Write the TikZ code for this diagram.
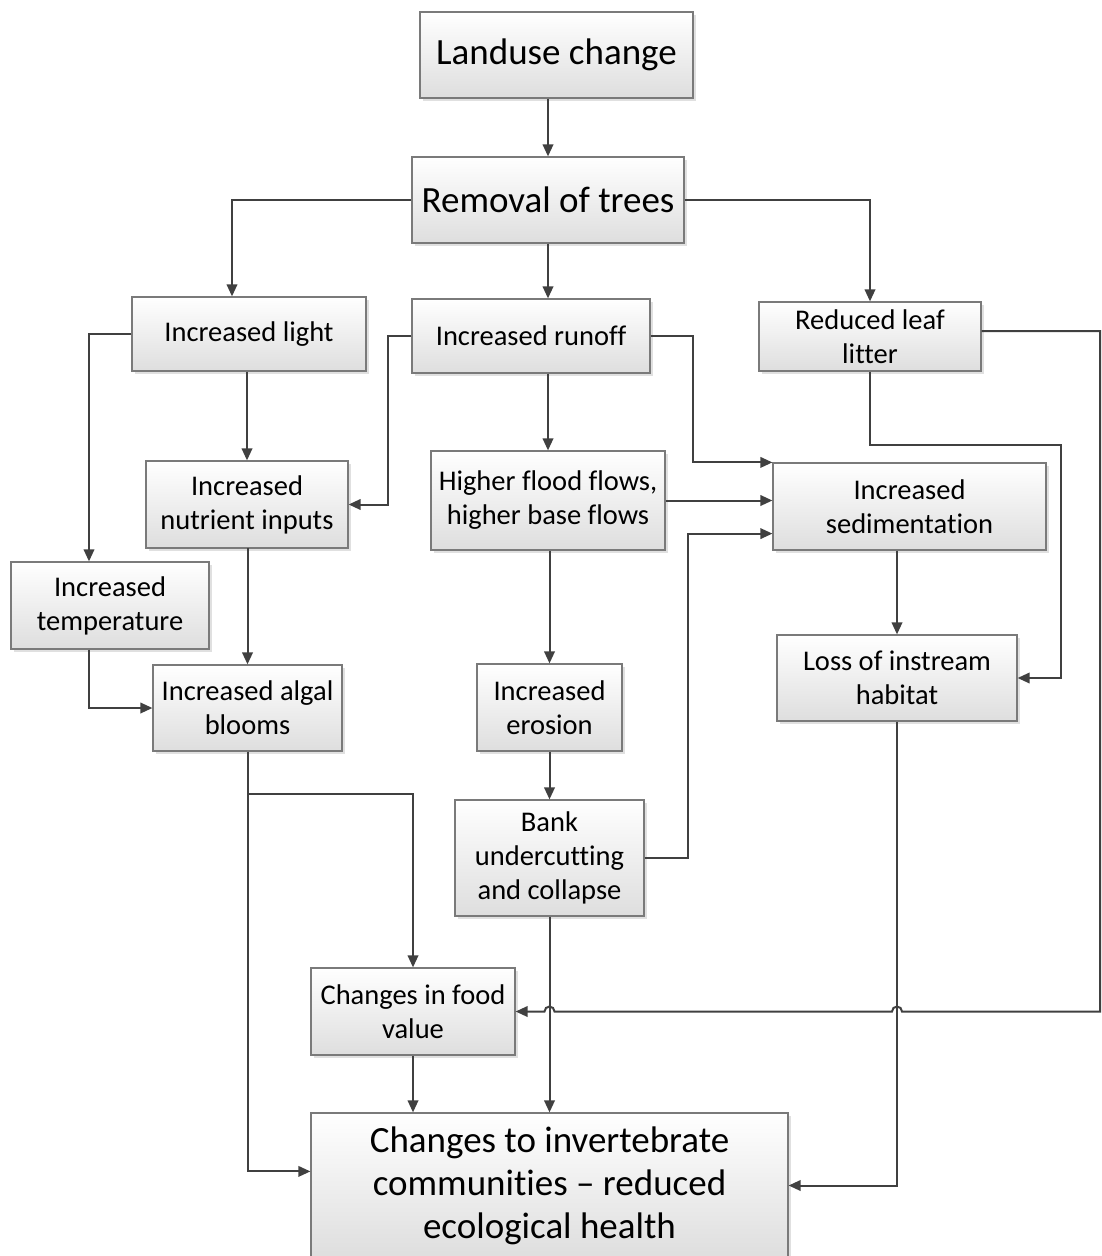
\documentclass[tikz,border=0pt]{standalone}
\usepackage{fontspec}
\setmainfont{Carlito}[Ligatures=NoCommon]
\usetikzlibrary{arrows.meta,calc,shadows}
\definecolor{linec}{HTML}{404040}
\definecolor{boxline}{HTML}{7A7A7A}
\begin{document}
\begin{tikzpicture}[x=1pt,y=-1pt,
  box/.style={draw=boxline,line width=1.2pt,top color=white,bottom color=black!13,
    drop shadow={shadow xshift=3pt,shadow yshift=-3pt,fill=black,opacity=0.12},
    inner sep=0pt,align=center,font=\fontsize{28.5}{34}\selectfont},
  bigbox/.style={box,font=\fontsize{37}{43}\selectfont},
  conn/.style={draw=linec,line width=2pt,-{Triangle[length=12pt,width=10.5pt]}}]
\useasboundingbox (0,0) rectangle (1102,1256);
% boxes: at center, width, height
\node[bigbox,minimum width=273,minimum height=86] (landuse) at (556.5,55) {Landuse change};
\node[bigbox,minimum width=272,minimum height=86] (removal) at (548,200) {Removal of trees};
\node[box,minimum width=234,minimum height=74] (light) at (249,334) {Increased light};
\node[box,minimum width=238,minimum height=74] (runoff) at (531,336) {Increased runoff};
\node[box,minimum width=222,minimum height=69] (litter) at (870,336.5) {Reduced leaf\\litter};
\node[box,minimum width=202,minimum height=87] (nutrient) at (247,504.5) {Increased\\nutrient inputs};
\node[box,minimum width=234,minimum height=99] (flood) at (548,500.5) {Higher flood flows,\\higher base flows};
\node[box,minimum width=273,minimum height=87] (sed) at (909.5,506.5) {Increased\\sedimentation};
\node[box,minimum width=198,minimum height=87] (temp) at (110,605.5) {Increased\\temperature};
\node[box,minimum width=189,minimum height=86] (algal) at (247.5,708) {Increased algal\\blooms};
\node[box,minimum width=145,minimum height=87] (erosion) at (549.5,707.5) {Increased\\erosion};
\node[box,minimum width=240,minimum height=86] (habitat) at (897,678) {Loss of instream\\habitat};
\node[box,minimum width=189,minimum height=116] (bank) at (549.5,858) {Bank\\undercutting\\and collapse};
\node[box,minimum width=204,minimum height=87] (food) at (413,1011.5) {Changes in food\\value};
\node[bigbox,minimum width=477,minimum height=145] (invert) at (549.5,1185.5) {Changes to invertebrate\\communities -- reduced\\ecological health};
% connectors
\draw[conn] (removal.north |- landuse.south) -- (removal.north);
\draw[conn] (removal.west) -| ([xshift=-17pt]light.north);
\draw[conn] (removal.south) -- (removal.south |- runoff.north);
\draw[conn] (removal.east) -| (litter.north);
\draw[conn] (light.west) -| ([xshift=-21pt]temp.north);
\draw[conn] (nutrient.north |- light.south) -- (nutrient.north);
\draw[conn] (runoff.west) -- ++(-23,0) |- (nutrient.east);
\draw[conn] (flood.north |- runoff.south) -- (flood.north);
\draw[conn] (runoff.east) -- ++(42,0) |- (sed.north west);
\draw[conn] (flood.east) -- (sed.west |- flood.east);
\draw[conn] (bank.east) -- ++(43,0) |- ($(sed.south west)+(0,-17)$);
\coordinate (c1) at (1061,445);
\draw[conn] (litter.south) |- (c1) |- (habitat.east);
\coordinate (c2) at (1100,331);
\draw[conn] ($(litter.east)+(0,-5.5)$) -- (c2) |- ($(habitat.south |- food.east)+(5,0)$)
  arc[start angle=0,end angle=180,radius=5pt] -- ($(bank.south |- food.east)+(5,0)$)
  arc[start angle=0,end angle=180,radius=5pt] -- (food.east);
\draw[conn] (habitat.north |- sed.south) -- (habitat.north);
\draw[conn] (nutrient.south) -- (algal.north |- nutrient.south) -- (algal.north);
\draw[conn] ([xshift=-21pt]temp.south) |- (algal.west);
\draw[conn] (algal.south) |- ($(invert.north west)+(0,59)$);
\draw[conn] ($(algal.south)+(0,42)$) -| (food.north);
\draw[conn] (erosion.north |- flood.south) -- (erosion.north);
\draw[conn] (erosion.south) -- (erosion.south |- bank.north);
\draw[conn] (bank.south) -- (bank.south |- invert.north);
\draw[conn] (food.south) -- (food.south |- invert.north);
\draw[conn] (habitat.south) |- (invert.east);
\end{tikzpicture}
\end{document}
